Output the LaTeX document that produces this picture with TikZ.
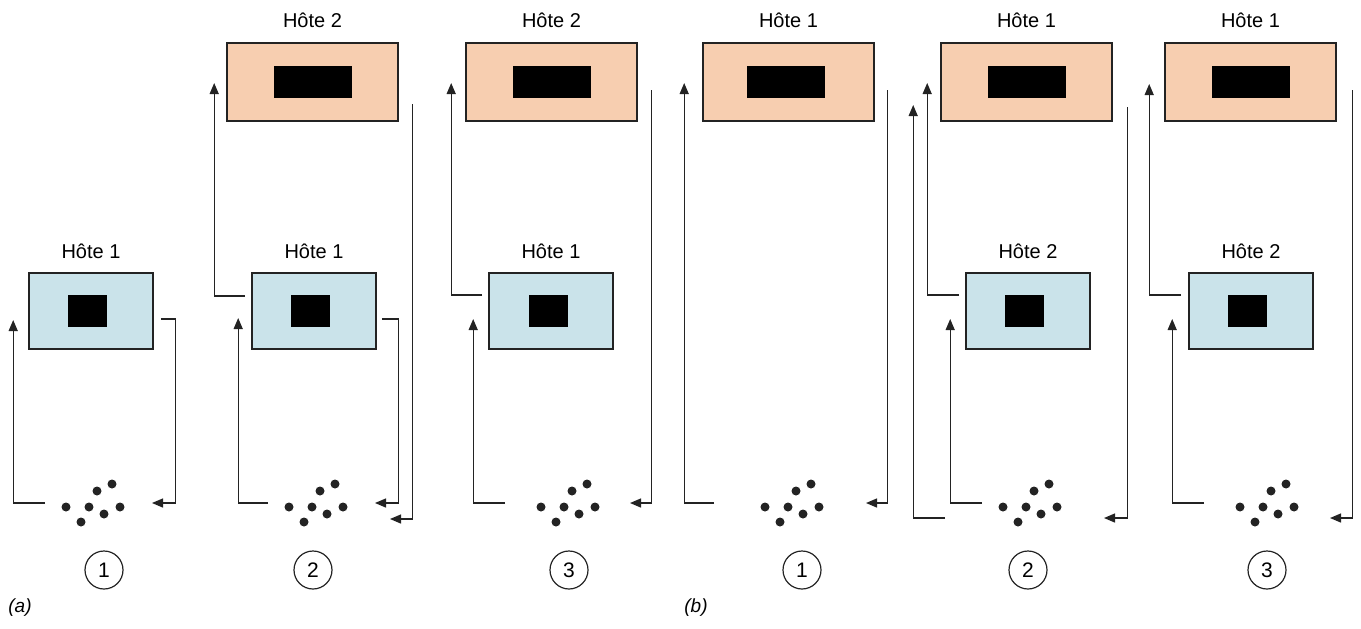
\documentclass[tikz,border=0pt]{standalone}
\usepackage{fontspec}
\setmainfont{Liberation Sans}
\usetikzlibrary{positioning, arrows.meta}
\definecolor{vmpeach}{RGB}{247,206,176}
\definecolor{vmblue}{RGB}{202,227,234}
\definecolor{vmline}{RGB}{35,35,35}
% cluster of seven dots round a named coordinate
\newcommand{\vmdots}[1]{%
  \foreach \dx/\dy in {-23/0, 0/0, 8/-16, 23/-23, 31/0, 15/7, -8/15}
    \fill[vmline] ([shift={(\dx,\dy)}]#1) circle (4.5pt);}

\begin{document}
\begin{tikzpicture}[x=1pt, y=-1pt, >={Triangle[length=11pt, width=9pt]},
    guest/.style={draw=vmline, line width=1.6pt, fill=vmpeach, minimum width=171pt, minimum height=78pt, inner sep=0pt},
    host/.style={draw=vmline, line width=1.6pt, fill=vmblue, minimum width=124pt, minimum height=76pt, inner sep=0pt},
    core/.style={fill=black, inner sep=0pt},
    bigcore/.style={core, minimum width=78pt, minimum height=32pt},
    smallcore/.style={core, minimum width=39pt, minimum height=32pt},
    hostname/.style={font=\fontsize{20}{24}\selectfont, inner sep=0pt},
    flow/.style={->, line width=1.3pt, draw=vmline},
    stepno/.style={circle, draw=vmline, line width=1.2pt, minimum size=38pt, inner sep=0pt, font=\fontsize{21}{24}\selectfont},
    paneltag/.style={font=\fontsize{19}{22}\selectfont\itshape, inner sep=0pt}]
  \useasboundingbox (0,0) rectangle (1361,629);

  % (a) step 1
  \node[host] (a1host) at (91,311) {};
  \node[smallcore] (a1hcore) at ([xshift=-4pt]a1host.center) {};
  \node[hostname, above=13pt of a1host] (a1hname) {Hôte 1};
  \coordinate (a1dots) at (89,507);
  \vmdots{a1dots}
  \node[stepno] (a1step) at (104,570) {1};
  \coordinate (a1out) at (45,503);
  \coordinate (a1in) at (152,503);
  \draw[flow] (a1out) -| ([shift={(-15,9)}]a1host.west);
  \draw[flow] ([shift={(7,8)}]a1host.east) -- ++(15,0) |- (a1in);

  % (a) step 2
  \node[guest] (a2guest) at (312.5,82) {};
  \node[bigcore] (a2gcore) at (a2guest.center) {};
  \node[hostname, above=14pt of a2guest] (a2gname) {Hôte 2};
  \node[host] (a2host) at (314,311) {};
  \node[smallcore] (a2hcore) at ([xshift=-4pt]a2host.center) {};
  \node[hostname, above=13pt of a2host] (a2hname) {Hôte 1};
  \coordinate (a2dots) at (312,507);
  \vmdots{a2dots}
  \node[stepno] (a2step) at (313,570) {2};
  \coordinate (a2out) at (268,503);
  \coordinate (a2in) at (375,503);
  \coordinate (a2in2) at (390,519);
  \draw[flow] (a2out) -| ([shift={(-13,7)}]a2host.west);
  \draw[flow] ([shift={(-6,-15)}]a2host.west) -| ([shift={(-12,1)}]a2guest.west);
  \draw[flow] ([shift={(5,8)}]a2host.east) -- ++(17,0) |- (a2in);
  \draw[flow] ([shift={(14,22)}]a2guest.east) |- (a2in2);

  % (a) step 3
  \node[guest] (a3guest) at (551.5,82) {};
  \node[bigcore] (a3gcore) at (a3guest.center) {};
  \node[hostname, above=14pt of a3guest] (a3gname) {Hôte 2};
  \node[host] (a3host) at (551,311) {};
  \node[smallcore] (a3hcore) at ([xshift=-3pt]a3host.center) {};
  \node[hostname, above=13pt of a3host] (a3hname) {Hôte 1};
  \coordinate (a3dots) at (564,507);
  \vmdots{a3dots}
  \node[stepno] (a3step) at (569,570) {3};
  \coordinate (a3out) at (505,503);
  \coordinate (a3in) at (630,503);
  \draw[flow] (a3out) -| ([shift={(-15,8)}]a3host.west);
  \draw[flow] ([shift={(-6,-16)}]a3host.west) -| ([shift={(-14,1)}]a3guest.west);
  \draw[flow] ([shift={(14,8)}]a3guest.east) |- (a3in);
  \node[paneltag] (atag) at (20,608) {(a)};

  % (b) step 1
  \node[guest] (b1guest) at (788.5,82) {};
  \node[bigcore] (b1gcore) at ([xshift=-3pt]b1guest.center) {};
  \node[hostname, above=14pt of b1guest] (b1gname) {Hôte 1};
  \coordinate (b1dots) at (788,507);
  \vmdots{b1dots}
  \node[stepno] (b1step) at (802,570) {1};
  \coordinate (b1out) at (714,503);
  \coordinate (b1in) at (866,503);
  \draw[flow] (b1out) -| ([shift={(-18,1)}]b1guest.west);
  \draw[flow] ([shift={(13,8)}]b1guest.east) |- (b1in);

  % (b) step 2
  \node[guest] (b2guest) at (1026.5,82) {};
  \node[bigcore] (b2gcore) at (b2guest.center) {};
  \node[hostname, above=14pt of b2guest] (b2gname) {Hôte 1};
  \node[host] (b2host) at (1028,311) {};
  \node[smallcore] (b2hcore) at ([xshift=-4pt]b2host.center) {};
  \node[hostname, above=13pt of b2host] (b2hname) {Hôte 2};
  \coordinate (b2dots) at (1026,507);
  \vmdots{b2dots}
  \node[stepno] (b2step) at (1028,570) {2};
  \coordinate (b2out) at (982,503);
  \coordinate (b2out2) at (945,518);
  \coordinate (b2in) at (1104,518);
  \draw[flow] (b2out2) -| ([shift={(-27,23)}]b2guest.west);
  \draw[flow] (b2out) -| ([shift={(-15,8)}]b2host.west);
  \draw[flow] ([shift={(-6,-16)}]b2host.west) -| ([shift={(-13,1)}]b2guest.west);
  \draw[flow] ([shift={(15,25)}]b2guest.east) |- (b2in);

  % (b) step 3
  \node[guest] (b3guest) at (1250.5,82) {};
  \node[bigcore] (b3gcore) at (b3guest.center) {};
  \node[hostname, above=14pt of b3guest] (b3gname) {Hôte 1};
  \node[host] (b3host) at (1251,311) {};
  \node[smallcore] (b3hcore) at ([xshift=-4pt]b3host.center) {};
  \node[hostname, above=13pt of b3host] (b3hname) {Hôte 2};
  \coordinate (b3dots) at (1263,507);
  \vmdots{b3dots}
  \node[stepno] (b3step) at (1267,570) {3};
  \coordinate (b3out) at (1204,503);
  \coordinate (b3in) at (1330,518);
  \draw[flow] (b3out) -| ([shift={(-16,8)}]b3host.west);
  \draw[flow] ([shift={(-7,-16)}]b3host.west) -| ([shift={(-15,2)}]b3guest.west);
  \draw[flow] ([shift={(16,8)}]b3guest.east) |- (b3in);
  \node[paneltag] (btag) at (696,608) {(b)};
\end{tikzpicture}
\end{document}
